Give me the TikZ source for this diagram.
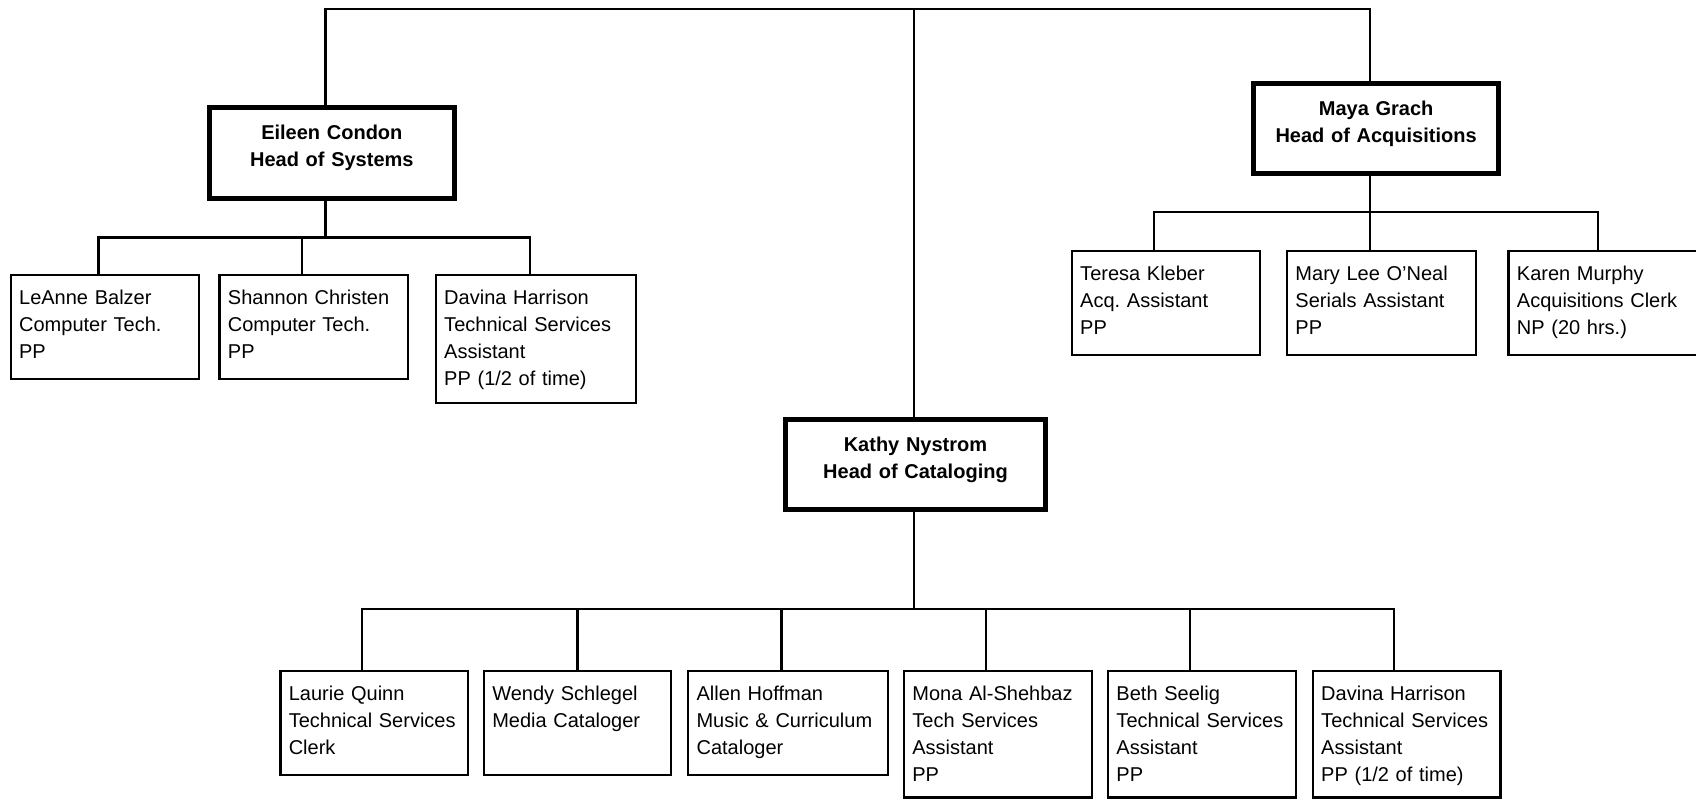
\documentclass[tikz,border=0pt]{standalone}
\usepackage{fontspec}
\setmainfont{Liberation Sans}
\usetikzlibrary{fit}
\frenchspacing
\tikzset{
  staffbox/.style={draw, line width=2.2pt, inner sep=0pt, outer sep=0pt},
  headbox/.style={draw, line width=4.6pt, inner sep=0pt, outer sep=0pt},
  link/.style={line width=2.2pt, line join=miter},
  stafftext/.style={anchor=base west, inner sep=0pt, text width=185pt, align=left,
    font=\fontsize{18.5}{24.9}\selectfont},
  headtext/.style={anchor=base, inner sep=0pt, text width=240pt, align=center,
    font=\fontsize{18.5}{24.9}\selectfont\bfseries},
}
\begin{document}
\begin{tikzpicture}[x=1pt,y=-1pt]
\useasboundingbox (0,0) rectangle (1568,739);

% heads
\node[headbox, fit={(193.3,99.7)(420.3,183.2)}] (eileen) {};
\node[headbox, fit={(1158.8,77.5)(1385.7,160.4)}] (maya) {};
\node[headbox, fit={(725.9,388.1)(966.9,470.8)}] (kathy) {};
\node[headtext] (eileenT) at ([yshift=-29.3pt]eileen.north) {Eileen Condon\\Head of Systems};
\node[headtext] (mayaT) at ([yshift=-29.3pt]maya.north) {Maya Grach\\Head of Acquisitions};
\node[headtext] (kathyT) at ([yshift=-29.3pt]kathy.north) {Kathy Nystrom\\Head of Cataloging};

% staff boxes
\node[staffbox, fit={(10,254.4)(184,350.2)}] (leanne) {};
\node[staffbox, fit={(203,254.4)(377,350.2)}] (shannon) {};
\node[staffbox, fit={(403,254.4)(588,372.4)}] (davinaA) {};
\node[staffbox, fit={(991,232.2)(1165,328)}] (teresa) {};
\node[staffbox, fit={(1190,232.2)(1364.5,328)}] (mary) {};
\node[staffbox, fit={(1394.7,232.2)(1575,328)}] (karen) {};
\node[staffbox, fit={(259.3,620.6)(432.9,716.4)}] (laurie) {};
\node[staffbox, fit={(447.4,620.6)(620.5,716.4)}] (wendy) {};
\node[staffbox, fit={(636.3,620.6)(821,716.4)}] (allen) {};
\node[staffbox, fit={(835.8,620.6)(1009.3,737.4)}] (mona) {};
\node[staffbox, fit={(1024.5,620.6)(1198.2,737.4)}] (beth) {};
\node[staffbox, fit={(1213.8,620.6)(1387.3,737.4)}] (davinaB) {};

\tikzset{tpos/.style={xshift=7.5pt,yshift=-27.2pt}}
\node[stafftext] (leanneT) at ([tpos]leanne.north west) {LeAnne Balzer\\Computer Tech.\\PP};
\node[stafftext] (shannonT) at ([tpos]shannon.north west) {Shannon Christen\\Computer Tech.\\PP};
\node[stafftext] (davinaAT) at ([tpos]davinaA.north west) {Davina Harrison\\Technical Services\\Assistant\\PP (1/2 of time)};
\node[stafftext] (teresaT) at ([tpos]teresa.north west) {Teresa Kleber\\Acq. Assistant\\PP};
\node[stafftext] (maryT) at ([tpos]mary.north west) {Mary Lee O’Neal\\Serials Assistant\\PP};
\node[stafftext] (karenT) at ([tpos]karen.north west) {Karen Murphy\\Acquisitions Clerk\\NP (20 hrs.)};
\node[stafftext] (laurieT) at ([tpos]laurie.north west) {Laurie Quinn\\Technical Services\\Clerk};
\node[stafftext] (wendyT) at ([tpos]wendy.north west) {Wendy Schlegel\\Media Cataloger};
\node[stafftext] (allenT) at ([tpos]allen.north west) {Allen Hoffman\\Music \& Curriculum\\Cataloger};
\node[stafftext] (monaT) at ([tpos]mona.north west) {Mona Al-Shehbaz\\Tech Services\\Assistant\\PP};
\node[stafftext] (bethT) at ([tpos]beth.north west) {Beth Seelig\\Technical Services\\Assistant\\PP};
\node[stafftext] (davinaBT) at ([tpos]davinaB.north west) {Davina Harrison\\Technical Services\\Assistant\\PP (1/2 of time)};

% top bus
\coordinate (tL) at (301.1,8.3);
\coordinate (tM) at (845,8.3);
\coordinate (tR) at (1266.5,8.3);
\draw[link] (eileen.north -| tL) -- (tL) -- (tR) -- (maya.north -| tR);
\draw[link] (tM) -- (kathy.north -| tM);

% systems bus
\coordinate (eS) at (301.1,219.4);
\coordinate (eA) at (91.1,219.4);
\coordinate (eB) at (279,219.4);
\coordinate (eC) at (490,219.4);
\draw[link] (eileen.south -| eS) -- (eS);
\draw[link] (leanne.north -| eA) -- (eA) -- (eC) -- (davinaA.north -| eC);
\draw[link] (eB) -- (shannon.north -| eB);

% acquisitions bus
\coordinate (mA) at (1067,196);
\coordinate (mB) at (1266.5,196);
\coordinate (mC) at (1477.4,196);
\draw[link] (maya.south -| mB) -- (mB) -- (mary.north -| mB);
\draw[link] (teresa.north -| mA) -- (mA) -- (mC) -- (karen.north -| mC);

% cataloging bus
\coordinate (kS) at (845,562.8);
\coordinate (k1) at (334.6,562.8);
\coordinate (k2) at (534,562.8);
\coordinate (k3) at (722.6,562.8);
\coordinate (k4) at (911.4,562.8);
\coordinate (k5) at (1100,562.8);
\coordinate (k6) at (1288.6,562.8);
\draw[link] (kathy.south -| kS) -- (kS);
\draw[link] (laurie.north -| k1) -- (k1) -- (k6) -- (davinaB.north -| k6);
\draw[link] (k2) -- (wendy.north -| k2);
\draw[link] (k3) -- (allen.north -| k3);
\draw[link] (k4) -- (mona.north -| k4);
\draw[link] (k5) -- (beth.north -| k5);
\end{tikzpicture}
\end{document}
